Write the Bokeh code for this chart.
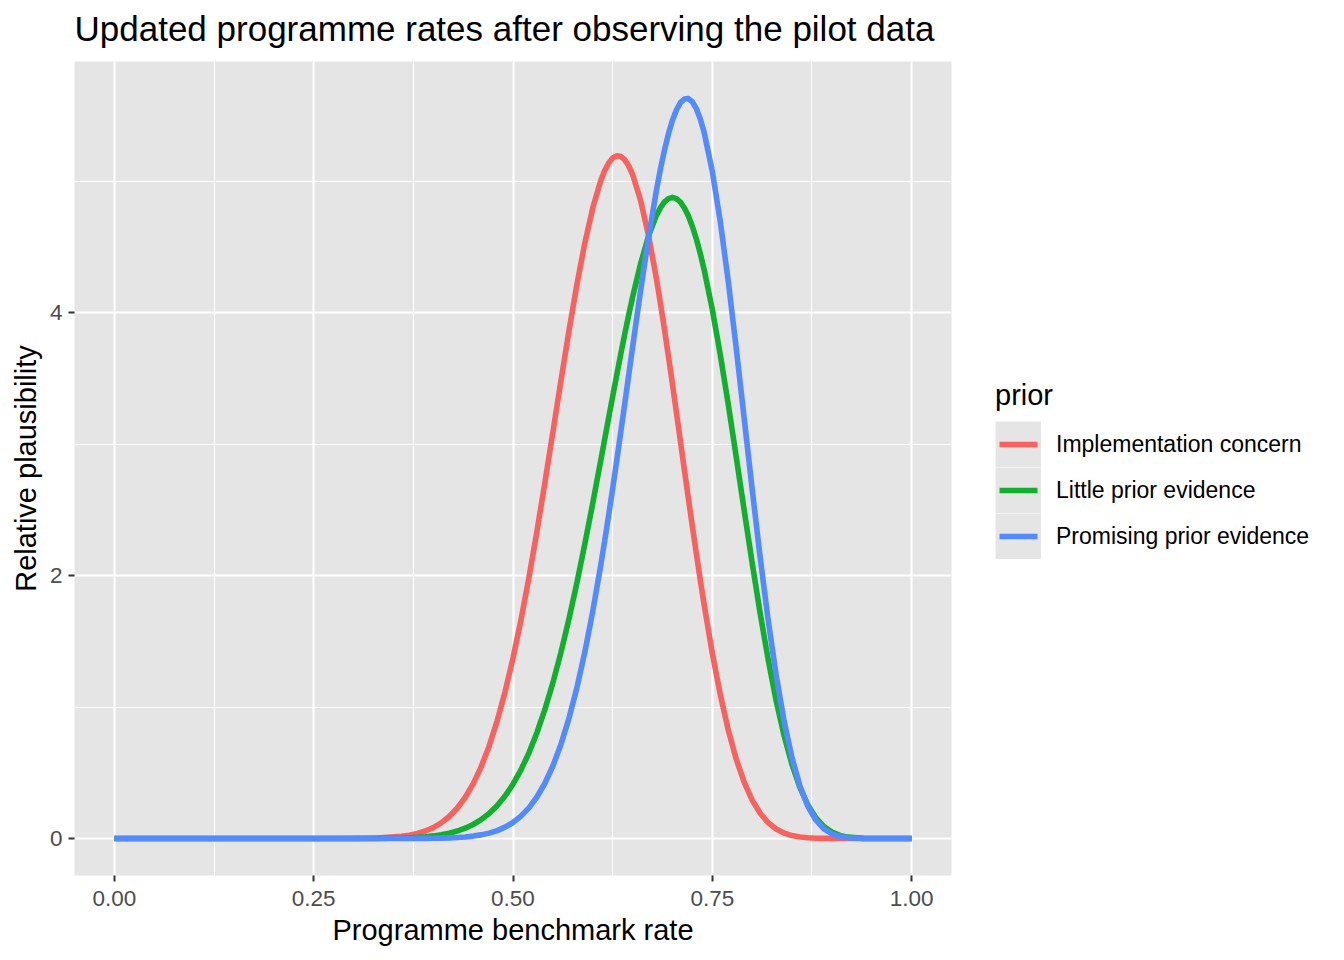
from bokeh.plotting import figure
from bokeh.layouts import row
from bokeh.models import (Range1d, FixedTicker, NumeralTickFormatter, Legend, LegendItem,
                          LinearAxis, CustomJSTickFormatter)
from bokeh.embed import file_html
from bokeh.resources import INLINE

TITLE = "Updated programme rates after observing the pilot data"
X_LABEL = "Programme benchmark rate"
Y_LABEL = "Relative plausibility"
LEGEND_TITLE = "prior"

rate = [0.00, 0.10, 0.20, 0.26, 0.30, 0.33, 0.36, 0.37, 0.38, 0.39, 0.40, 0.41, 0.42, 0.43, 0.44, 0.45, 0.46,
        0.47, 0.48, 0.49, 0.50, 0.51, 0.52, 0.53, 0.54, 0.55, 0.56,
        0.57, 0.58, 0.59, 0.60, 0.61, 0.615, 0.62, 0.625, 0.63, 0.635, 0.64, 0.645, 0.65, 0.66,
        0.67, 0.68, 0.685, 0.69, 0.695, 0.70, 0.705, 0.71, 0.715, 0.72, 0.725, 0.73, 0.735, 0.74, 0.75, 0.76,
        0.77, 0.78, 0.79, 0.80, 0.81, 0.82, 0.83, 0.84, 0.85, 0.86,
        0.87, 0.88, 0.89, 0.90, 0.91, 0.92, 0.94, 0.96, 1.00]

implementation_concern = [0, 0, 0, 0.0001, 0.0007, 0.0039, 0.0164, 0.0254, 0.0384, 0.0571, 0.0832, 0.1189, 0.1669, 0.2301, 0.3119, 0.4156, 0.5447,
                          0.7026, 0.8918, 1.1148, 1.3718, 1.6633, 1.9856, 2.3360, 2.7070, 3.0910, 3.4777,
                          3.8548, 4.2093, 4.5281, 4.7963, 5.0034, 5.0808, 5.1386, 5.1764, 5.1934, 5.1896, 5.1644, 5.1181, 5.0513, 4.8550,
                          4.5865, 4.2547, 4.0682, 3.8722, 3.6670, 3.4560, 3.2398, 3.0218, 2.8031, 2.5864, 2.3727, 2.1646, 1.9625, 1.7685, 1.4098, 1.0937,
                          0.8250, 0.6035, 0.4272, 0.2918, 0.1917, 0.1207, 0.0725, 0.0414, 0.0223, 0.0112,
                          0.0053, 0.0023, 0.0009, 0.0003, 0.0001, 0.0, 0, 0, 0]

little_prior = [0, 0, 0, 0.0000, 0.0002, 0.0009, 0.0038, 0.0059, 0.0090, 0.0134, 0.0197, 0.0284, 0.0404, 0.0566, 0.0782, 0.1066, 0.1433,
                0.1903, 0.2494, 0.3230, 0.4130, 0.5220, 0.6518, 0.8046, 0.9817, 1.1841, 1.4123,
                1.6653, 1.9415, 2.2381, 2.5503, 2.8734, 3.0370, 3.2002, 3.3626, 3.5224, 3.6795, 3.8317, 3.9786, 4.1185, 4.3713,
                4.5828, 4.7427, 4.7998, 4.8426, 4.8674, 4.8770, 4.8672, 4.8414, 4.7967, 4.7355, 4.6559, 4.5606, 4.4480, 4.3203, 4.0243, 3.6801,
                3.3023, 2.9021, 2.4950, 2.0946, 1.7136, 1.3629, 1.0509, 0.7833, 0.5617, 0.3860,
                0.2525, 0.1562, 0.0905, 0.0485, 0.0237, 0.0103, 0.0012, 0.0000, 0]

promising_prior = [0, 0, 0, 0, 0, 0, 0.0002, 0.0003, 0.0006, 0.0010, 0.0018, 0.0029, 0.0047, 0.0076, 0.0118, 0.0182, 0.0275,
                   0.0409, 0.0599, 0.0861, 0.1219, 0.1701, 0.2334, 0.3156, 0.4204, 0.5518, 0.7138,
                   0.9099, 1.1430, 1.4153, 1.7266, 2.0761, 2.2642, 2.4598, 2.6627, 2.8712, 3.0848, 3.3014, 3.5199, 3.7386, 4.1667,
                   4.5720, 4.9355, 5.0946, 5.2375, 5.3607, 5.4643, 5.5422, 5.5978, 5.6261, 5.6293, 5.6036, 5.5519, 5.4713, 5.3645, 5.0755, 4.6926,
                   4.2378, 3.7295, 3.1940, 2.6560, 2.1391, 1.6640, 1.2458, 0.8944, 0.6125, 0.3979,
                   0.2434, 0.1390, 0.0732, 0.0351, 0.0150, 0.0056, 0.0004, 0.0000, 0]

series_names = ["Implementation concern", "Little prior evidence", "Promising prior evidence"]
series_values = [implementation_concern, little_prior, promising_prior]
series_colors = ["#F7625F", "#12AF2E", "#538BFF"]

x_ticks = [0.0, 0.25, 0.5, 0.75, 1.0]
x_minor = [0.125, 0.375, 0.625, 0.875]
y_ticks = [0, 2, 4]
y_minor = [1, 3, 5]

FONT = "Liberation Sans"
PANEL = "#E5E5E5"
LW = 5.6
H = 950

p = figure(width=961, height=H,
           x_range=Range1d(-0.05, 1.05), y_range=Range1d(-0.2815, 5.911),
           output_backend="svg", toolbar_location=None,
           min_border_left=74, min_border_right=10, min_border_top=61, min_border_bottom=75,
           background_fill_color=PANEL, border_fill_color="white",
           outline_line_color=None, title=TITLE)

p.title.text_font = FONT
p.title.text_font_size = "35px"
p.title.text_font_style = "normal"
p.title.text_color = "black"
p.title.align = "left"
p.title.standoff = 8

bx = p.below[0]
ly = p.left[0]

xt = FixedTicker(ticks=x_ticks, minor_ticks=x_minor)
yt = FixedTicker(ticks=y_ticks, minor_ticks=y_minor)
bx.ticker = xt
ly.ticker = yt
p.xgrid.ticker = xt
p.ygrid.ticker = yt
bx.formatter = NumeralTickFormatter(format="0.00")

for g in (p.xgrid, p.ygrid):
    g.grid_line_color = "white"
    g.grid_line_width = 2.1
    g.minor_grid_line_color = "white"
    g.minor_grid_line_width = 1.1

for ax in (bx, ly):
    ax.axis_line_color = None
    ax.major_tick_in = 0
    ax.major_tick_out = 6
    ax.major_tick_line_color = "#333333"
    ax.major_tick_line_width = 2
    ax.minor_tick_in = 0
    ax.minor_tick_out = 0
    ax.major_label_text_font = FONT
    ax.major_label_text_font_size = "22.5px"
    ax.major_label_text_color = "#4D4D4D"
    ax.axis_label_text_font = FONT
    ax.axis_label_text_font_size = "29px"
    ax.axis_label_text_font_style = "normal"
    ax.axis_label_text_color = "black"

bx.axis_label = X_LABEL
bx.major_label_standoff = 9
bx.axis_label_standoff = 5
ly.axis_label = Y_LABEL
ly.major_label_standoff = 6
ly.axis_label_standoff = 5

# invisible spacer axis between frame and title (no line, no visible tick, empty label)
spacer = LinearAxis(ticker=FixedTicker(ticks=[0.5], minor_ticks=[]), axis_line_color=None,
                    major_tick_out=10, major_tick_in=0, major_tick_line_color=None,
                    minor_tick_out=0, minor_tick_in=0,
                    major_label_standoff=0, major_label_text_font_size="1px",
                    formatter=CustomJSTickFormatter(code="return ''"))
p.add_layout(spacer, "above")

for vals, col in zip(series_values, series_colors):
    p.line(rate, vals, line_color=col, line_width=LW, line_join="round")

# legend panel: a separate figure holding only the legend
pl = figure(width=367, height=H, x_range=Range1d(0, 1), y_range=Range1d(0, 1),
            output_backend="svg", toolbar_location=None,
            x_axis_type=None, y_axis_type=None,
            min_border_left=0, min_border_right=0, min_border_top=0, min_border_bottom=0,
            background_fill_color="white", border_fill_color="white", outline_line_color=None)
pl.xgrid.visible = False
pl.ygrid.visible = False

nan = float("nan")
key_bg = pl.line(x=[nan, nan], y=[nan, nan], line_color=PANEL, line_width=46)
items = []
for name, col in zip(series_names, series_colors):
    key_line = pl.line(x=[nan, nan], y=[nan, nan], line_color=col, line_width=LW,
                       line_dash="38 8", line_dash_offset=42)
    items.append(LegendItem(label=name, renderers=[key_bg, key_line]))

legend = Legend(items=items, location=(34, 316),
                title=LEGEND_TITLE, title_text_font=FONT, title_text_font_size="29px",
                title_text_font_style="normal", title_text_color="black", title_standoff=9,
                label_text_font=FONT, label_text_font_size="23px", label_text_color="black",
                label_standoff=15, glyph_width=46, glyph_height=46, label_height=46,
                spacing=0, padding=0, margin=0,
                border_line_color=None, background_fill_alpha=0)
pl.add_layout(legend)

layout = row(p, pl)
open("out.html", "w").write(file_html(layout, INLINE))
